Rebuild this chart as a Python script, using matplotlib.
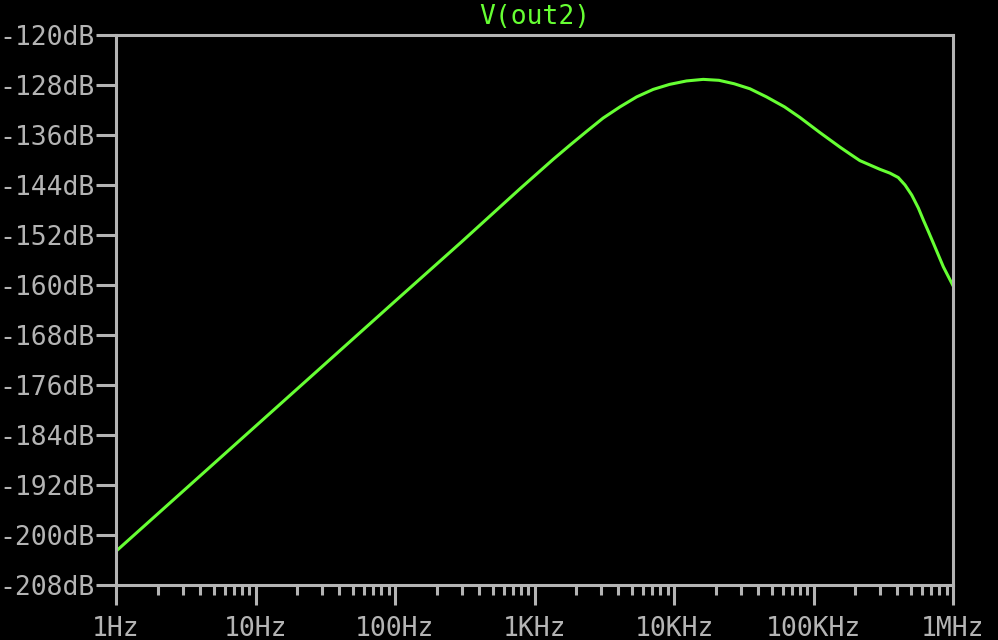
import matplotlib
matplotlib.use('Agg')
import matplotlib.pyplot as plt
import numpy as np

# values
freq = [1, 10, 100, 300, 787, 1360, 1800, 2370, 3100, 4100, 5400, 7100,
        9300, 12300, 16200, 21000, 27000, 35000, 46000, 62000, 80000,
        111000, 155000, 183000, 215000, 254000, 300000, 353000, 405000,
        453000, 506000, 565000, 613000, 665000, 723000, 853000, 1000000]
mag_db = [-202.6, -182.6, -162.6, -153.1, -144.6, -139.9, -137.6, -135.4,
          -133.3, -131.5, -129.9, -128.7, -127.9, -127.35, -127.1, -127.25,
          -127.8, -128.6, -129.9, -131.5, -133.2, -135.6, -137.95, -139.05,
          -140.1, -140.8, -141.5, -142.1, -142.8, -144.0, -145.6, -147.7,
          -149.6, -151.4, -153.3, -157.1, -160.1]

x_ticks = [1, 10, 100, 1e3, 1e4, 1e5, 1e6]
x_labels = ['1Hz', '10Hz', '100Hz', '1KHz', '10KHz', '100KHz', '1MHz']
y_ticks = list(range(-208, -119, 8))
y_labels = [f'{v}dB' for v in y_ticks]

green = '#66ff33'
grey = '#b4b4b4'
font = 'DejaVu Sans Mono'

fig = plt.figure(figsize=(9.98, 6.4), dpi=100, facecolor='black')
ax = fig.add_axes([116/998, 1-585/640, (953-116)/998, (585-35)/640])
ax.set_facecolor('black')

ax.plot(freq, mag_db, color=green, lw=2.2, solid_joinstyle='round')

ax.set_xscale('log')
ax.set_xlim(1, 1e6)
ax.set_ylim(-208, -120)

ax.set_xticks(x_ticks)
ax.set_xticklabels(x_labels)
ax.xaxis.set_minor_locator(matplotlib.ticker.LogLocator(base=10, subs=np.arange(2, 10)))
ax.xaxis.set_minor_formatter(matplotlib.ticker.NullFormatter())
ax.set_yticks(y_ticks)
ax.set_yticklabels(y_labels)
ax.yaxis.set_minor_locator(matplotlib.ticker.NullLocator())

for s in ax.spines.values():
    s.set_color(grey)
    s.set_linewidth(2.2)

ax.tick_params(axis='x', which='major', length=14.5, width=2.2, color=grey,
               pad=8, labelsize=19, labelcolor=grey)
ax.tick_params(axis='x', which='minor', length=7.5, width=2.2, color=grey)
ax.tick_params(axis='y', which='major', length=14.5, width=2.2, color=grey,
               pad=1, labelsize=19, labelcolor=grey)
for lab in ax.get_xticklabels() + ax.get_yticklabels():
    lab.set_family(font)

fig.text((116+953)/2/998, 1-17/640, 'V(out2)', color=green, family=font,
         fontsize=19, ha='center', va='center')

fig.savefig('out.png', dpi=100, facecolor='black')
